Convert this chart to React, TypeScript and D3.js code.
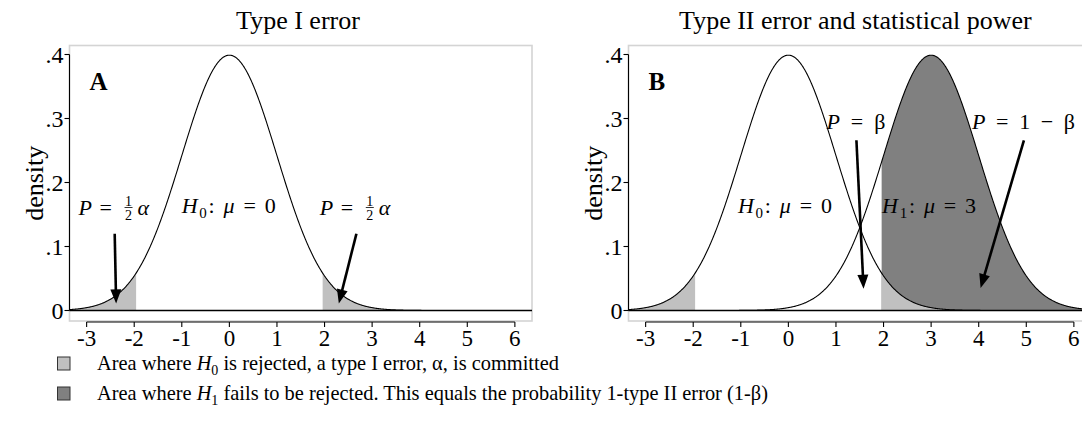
import React from "react";
import * as d3 from "d3";

// ---- data ----
const MEANS = [0, 3]; // H0 mean, H1 mean
const SD = 1;
const CRIT = [-1.96, 1.96];
const X_DOMAIN = [-3.36, 6.36];
const Y_DOMAIN = [0, 0.4];
const X_TICKS = [-3, -2, -1, 0, 1, 2, 3, 4, 5, 6];
const Y_TICKS = [0, 0.1, 0.2, 0.3, 0.4];
const Y_TICK_LABELS = ["0", ".1", ".2", ".3", ".4"];
const TITLES = ["Type I error", "Type II error and statistical power"];
const PANEL_LETTERS = ["A", "B"];
const Y_LABEL = "density";

const LIGHT = "#c0c0c0";
const DARK = "#808080";
const FRAME = "#d4d4d4";
const SERIF = "'Liberation Serif', 'Times New Roman', serif";

const pdf = (x: number, m: number) =>
  Math.exp(-0.5 * ((x - m) / SD) ** 2) / (SD * Math.sqrt(2 * Math.PI));

const grid = (a: number, b: number) => {
  const pts = d3.range(a, b, 0.01);
  pts.push(b);
  return pts;
};

const PLOT_W = 462.5;
const TOP = 45.5;
const BOTTOM = 321;

function Arrow({ x1, y1, x2, y2 }: { x1: number; y1: number; x2: number; y2: number }) {
  const dx = x2 - x1, dy = y2 - y1;
  const len = Math.sqrt(dx * dx + dy * dy);
  const ux = dx / len, uy = dy / len;
  const hl = 14, hw = 5.5;
  const bx = x2 - ux * hl, by = y2 - uy * hl;
  const px = -uy, py = ux;
  return (
    <g>
      <line x1={x1} y1={y1} x2={bx + ux * 2} y2={by + uy * 2} stroke="#000" strokeWidth={2.6} />
      <polygon
        points={`${x2},${y2} ${bx + px * hw},${by + py * hw} ${bx - px * hw},${by - py * hw}`}
        fill="#000"
      />
    </g>
  );
}

function Frac({ x, y }: { x: number; y: number }) {
  return (
    <g fontFamily={SERIF} fontSize={14} textAnchor="middle">
      <text x={x} y={y - 9}>1</text>
      <line x1={x - 4} x2={x + 4} y1={y - 7} y2={y - 7} stroke="#000" strokeWidth={0.8} />
      <text x={x} y={y + 5}>2</text>
    </g>
  );
}

function HalfAlpha({ x, y }: { x: number; y: number }) {
  return (
    <g fontFamily={SERIF} fontSize={22}>
      <text x={x} y={y} fontStyle="italic">P</text>
      <text x={x + 21} y={y}>=</text>
      <Frac x={x + 50} y={y} />
      <text x={x + 59} y={y} fontStyle="italic">α</text>
    </g>
  );
}

function Hyp({ x, y, sub, val }: { x: number; y: number; sub: string; val: string }) {
  return (
    <text x={x} y={y} fontFamily={SERIF} fontSize={22} textLength={94} lengthAdjust="spacing">
      <tspan fontStyle="italic">H</tspan>
      <tspan fontSize={15} dy={5}>{sub}</tspan>
      <tspan dy={-5}>: </tspan>
      <tspan fontStyle="italic">μ</tspan>
      <tspan> = {val}</tspan>
    </text>
  );
}

function Panel({ idx, left, titleX }: { idx: number; left: number; titleX: number }) {
  const x = d3.scaleLinear().domain(X_DOMAIN).range([left, left + PLOT_W]);
  const y = d3.scaleLinear().domain(Y_DOMAIN).range([310.5, 54.5]);
  const area = (m: number) =>
    d3.area<number>().x((d) => x(d)).y0(y(0)).y1((d) => y(pdf(d, m)));
  const line = (m: number) => d3.line<number>().x((d) => x(d)).y((d) => y(pdf(d, m)));
  const full = grid(X_DOMAIN[0], X_DOMAIN[1]);
  const leftTail = grid(X_DOMAIN[0], CRIT[0]);
  const rightTail = grid(CRIT[1], X_DOMAIN[1]);
  const axisY = 322;

  return (
    <g>
      <text x={titleX} y={29} textAnchor="middle" fontFamily={SERIF} fontSize={26}>
        {TITLES[idx]}
      </text>
      <rect x={left} y={TOP} width={PLOT_W} height={BOTTOM - TOP} fill="#fff" stroke={FRAME} strokeWidth={1.6} />
      {idx === 1 && <path d={area(MEANS[1])(rightTail) || ""} fill={DARK} />}
      <path d={area(MEANS[0])(leftTail) || ""} fill={LIGHT} />
      <path d={area(MEANS[0])(rightTail) || ""} fill={LIGHT} />
      <path d={line(MEANS[0])(full) || ""} fill="none" stroke="#000" strokeWidth={1.1} />
      {idx === 1 && <path d={line(MEANS[1])(full) || ""} fill="none" stroke="#000" strokeWidth={1.1} />}
      <line x1={left} x2={left + PLOT_W} y1={y(0)} y2={y(0)} stroke="#000" strokeWidth={1.6} />
      <line x1={left} x2={left} y1={y(0.4)} y2={y(0)} stroke="#000" strokeWidth={1.1} />
      {Y_TICKS.map((t, i) => (
        <g key={t}>
          <line x1={left - 5} x2={left} y1={y(t)} y2={y(t)} stroke="#000" strokeWidth={1.1} />
          <text x={left - 6} y={y(t)} dy="0.35em" textAnchor="end" fontFamily={SERIF} fontSize={24}>
            {Y_TICK_LABELS[i]}
          </text>
        </g>
      ))}
      <text
        transform={`translate(${left - 27},${(TOP + BOTTOM) / 2}) rotate(-90)`}
        textAnchor="middle"
        fontFamily={SERIF}
        fontSize={26}
      >
        {Y_LABEL}
      </text>
      <line x1={x(X_TICKS[0])} x2={x(X_TICKS[X_TICKS.length - 1])} y1={axisY} y2={axisY} stroke="#000" strokeWidth={1.1} />
      {X_TICKS.map((t) => (
        <g key={t}>
          <line x1={x(t)} x2={x(t)} y1={axisY} y2={axisY + 5} stroke="#000" strokeWidth={1.1} />
          <text x={x(t)} y={346} textAnchor="middle" fontFamily={SERIF} fontSize={23}>
            {t}
          </text>
        </g>
      ))}
      <text x={x(-2.94)} y={y(0.344)} fontFamily={SERIF} fontSize={25} fontWeight="bold">
        {PANEL_LETTERS[idx]}
      </text>
      {idx === 0 ? (
        <g>
          <HalfAlpha x={x(-3.17)} y={y(0.15)} />
          <Hyp x={x(-1.0)} y={y(0.152)} sub="0" val="0" />
          <HalfAlpha x={x(1.9)} y={y(0.15)} />
          <Arrow x1={x(-2.41)} y1={y(0.12)} x2={x(-2.38)} y2={y(0.011)} />
          <Arrow x1={x(2.67)} y1={y(0.12)} x2={x(2.3)} y2={y(0.011)} />
        </g>
      ) : (
        <g>
          <text x={x(0.8)} y={y(0.284)} fontFamily={SERIF} fontSize={22} textLength={59} lengthAdjust="spacing">
            <tspan fontStyle="italic">P</tspan>
            <tspan> = β</tspan>
          </text>
          <text x={x(3.86)} y={y(0.284)} fontFamily={SERIF} fontSize={22} textLength={103} lengthAdjust="spacing">
            <tspan fontStyle="italic">P</tspan>
            <tspan> = 1 − β</tspan>
          </text>
          <Hyp x={x(-1.06)} y={y(0.152)} sub="0" val="0" />
          <Hyp x={x(1.97)} y={y(0.152)} sub="1" val="3" />
          <Arrow x1={x(1.43)} y1={y(0.266)} x2={x(1.58)} y2={y(0.034)} />
          <Arrow x1={x(4.95)} y1={y(0.266)} x2={x(4.04)} y2={y(0.035)} />
        </g>
      )}
    </g>
  );
}

export default function App() {
  return (
    <svg
      width={1082}
      height={434}
      style={{ position: "absolute", left: 0, top: 0, background: "#fff" }}
    >
      <rect width={1082} height={434} fill="#fff" />
      <Panel idx={0} left={69.5} titleX={298} />
      <Panel idx={1} left={628.5} titleX={855.4} />
      <g fontFamily={SERIF} fontSize={20.4}>
        <rect x={57.5} y={357} width={12.5} height={13} fill={LIGHT} stroke="#333" strokeWidth={1} />
        <text x={97} y={370}>
          Area where <tspan fontStyle="italic">H</tspan>
          <tspan fontSize={14} dy={5}>0</tspan>
          <tspan dy={-5}> is rejected, a type I error, α, is committed</tspan>
        </text>
        <rect x={57.5} y={387} width={12.5} height={13} fill={DARK} stroke="#333" strokeWidth={1} />
        <text x={97} y={400}>
          Area where <tspan fontStyle="italic">H</tspan>
          <tspan fontSize={14} dy={5}>1</tspan>
          <tspan dy={-5}> fails to be rejected. This equals the probability 1-type II error (1-β)</tspan>
        </text>
      </g>
    </svg>
  );
}
